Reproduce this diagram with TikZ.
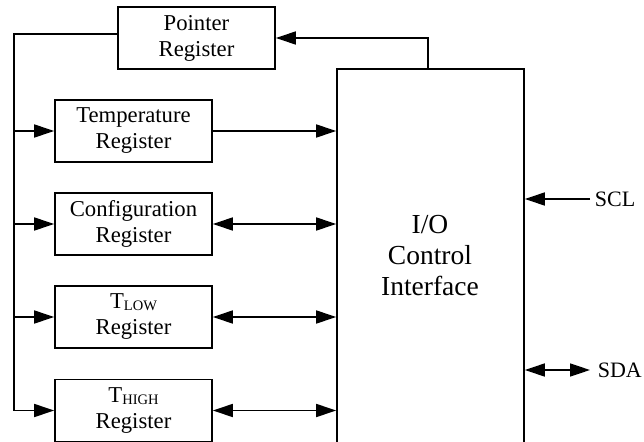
\documentclass[tikz,border=0pt]{standalone}
\usepackage{fontspec}
\setmainfont{Liberation Serif}
\usetikzlibrary{arrows.meta}
\newcommand{\subsc}[1]{{\fontsize{14.5}{14.5}\selectfont\raisebox{-2pt}{#1}}}
\begin{document}
\begin{tikzpicture}[x=1pt,y=-1pt, line width=1.7pt,
  reg/.style={draw, minimum width=157pt, minimum height=62pt, inner sep=0pt, align=center,
    font=\fontsize{22.7}{26}\selectfont},
  lbl/.style={inner sep=0pt, anchor=west, font=\fontsize{22}{26}\selectfont},
  arr/.style={-{Triangle[length=20pt,width=13pt]}},
  darr/.style={{Triangle[length=20pt,width=13pt]}-{Triangle[length=20pt,width=13pt]}}]
\useasboundingbox (0,0) rectangle (644,441);
\clip (0,0) rectangle (644,441);
% register boxes
\node[reg] (ptr) at (196.5,38) {Pointer\\Register};
\node[reg] (temp) at (133.5,131) {Temperature\\Register};
\node[reg] (conf) at (133.5,224) {Configuration\\Register};
\node[reg] (tlow) at (133.5,317) {T\subsc{LOW}\\Register};
\node[reg] (thigh) at (133.5,410.5) {T\subsc{HIGH}\\Register};
% I/O control box (runs past the lower edge)
\node[draw, minimum width=187pt, minimum height=400pt, inner sep=0pt] (io) at (430.5,269) {};
\node[align=center, inner sep=0pt, font=\fontsize{27.5}{31}\selectfont] (iot) at (430,256) {I/O\\Control\\Interface};
% bus on the left
\coordinate (bus) at (14,0);
\draw ([yshift=4pt]ptr.west) -| (bus |- thigh.west);
\draw[arr] (bus |- temp.west) -- (temp.west);
\draw[arr] (bus |- conf.west) -- (conf.west);
\draw[arr] (bus |- tlow.west) -- (tlow.west);
\draw[arr] (bus |- thigh.west) -- (thigh.west);
% pointer feedback
\draw[arr] ([xshift=-2.5pt]io.north) |- (ptr.east);
% register to I/O
\draw[arr] (temp.east) -- (temp.east -| io.west);
\draw[darr] (conf.east) -- (conf.east -| io.west);
\draw[darr] (tlow.east) -- (tlow.east -| io.west);
\draw[darr] (thigh.east) -- (thigh.east -| io.west);
% external pins
\node[lbl] (scl) at (594,199) {SCL};
\coordinate (sclend) at (590,199);
\draw[arr] (sclend) -- (sclend -| io.east);
\node[lbl] (sda) at (597,370) {SDA};
\coordinate (sdaend) at (590,370);
\draw[darr] (sdaend -| io.east) -- (sdaend);
\end{tikzpicture}
\end{document}
